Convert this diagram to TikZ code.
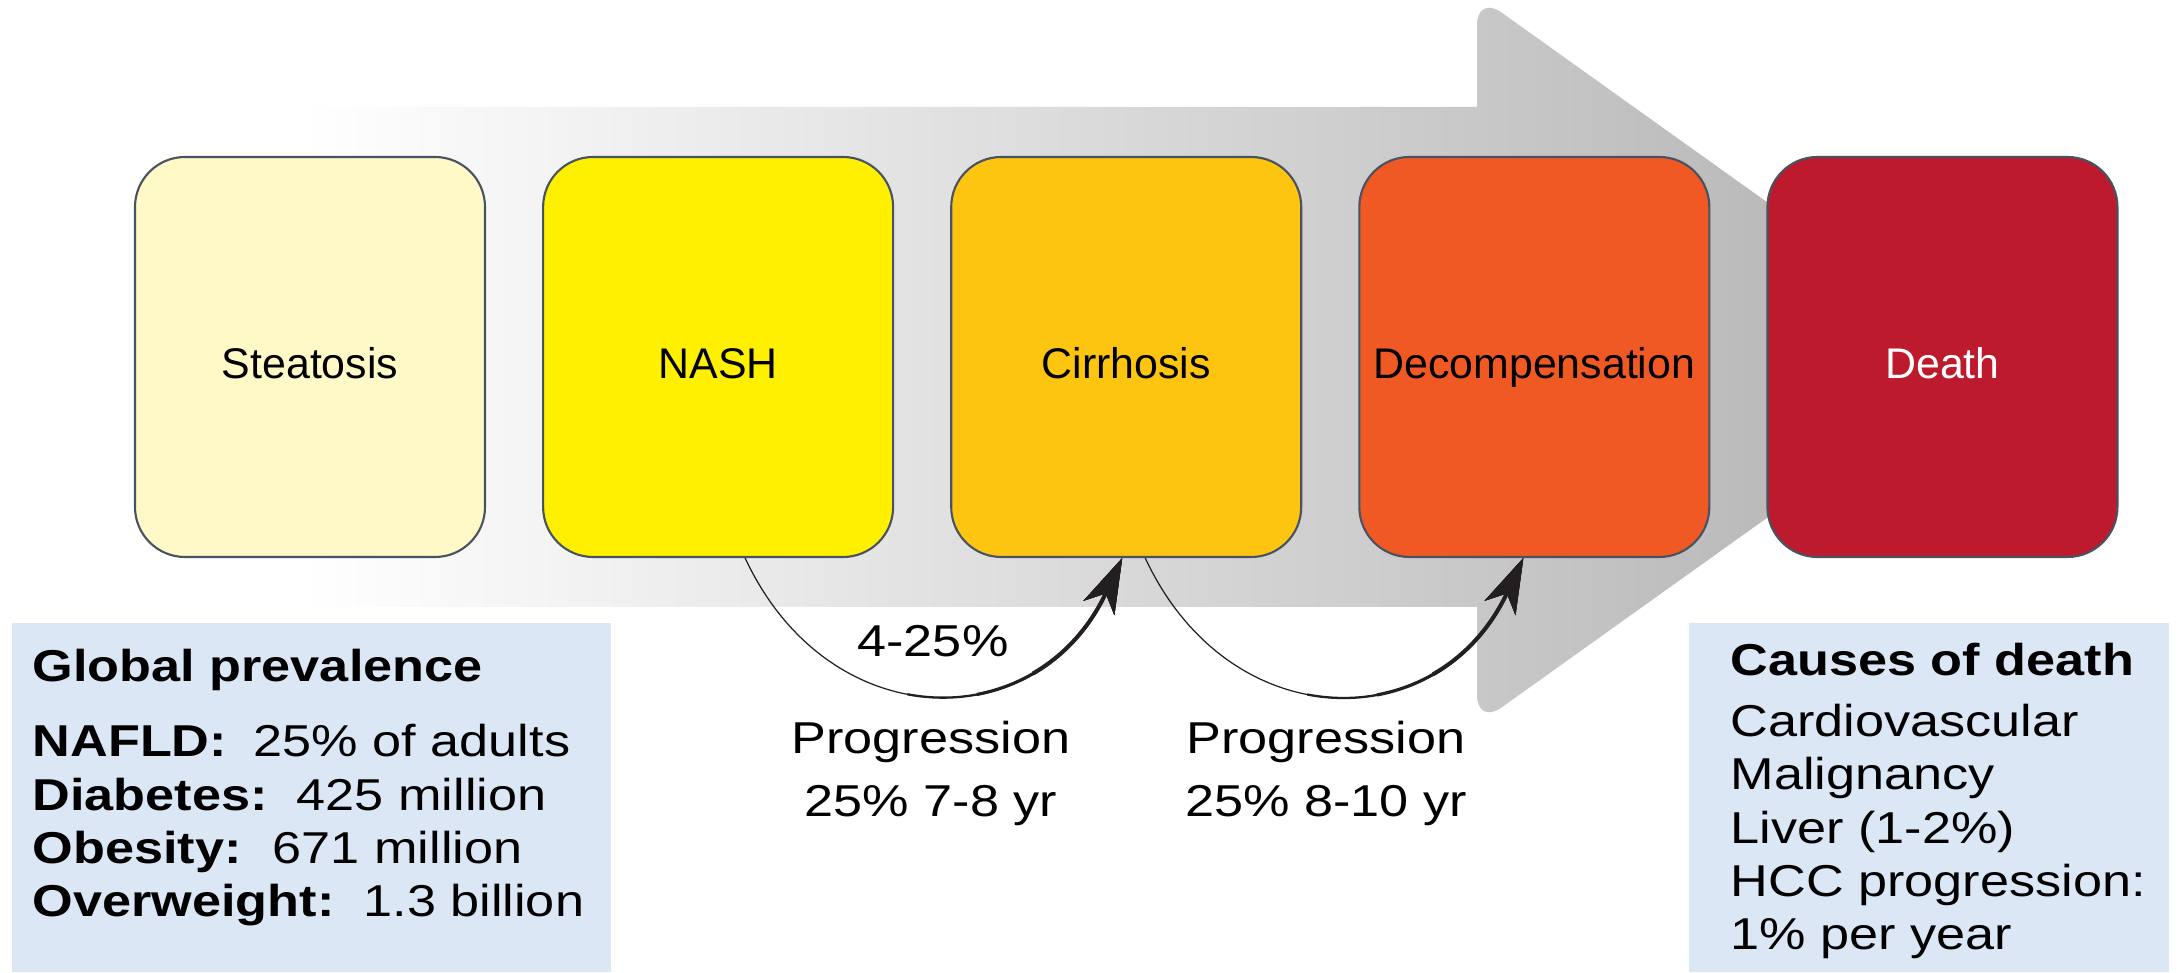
\documentclass[tikz,border=0pt]{standalone}
\usepackage{fontspec}
\setmainfont{Liberation Sans}
\newfontfamily\widesans[FakeStretch=1.17]{Liberation Sans}
\usepackage{xcolor}
\usepackage{tikz}
\usetikzlibrary{
  arrows.meta,
  positioning
}

\definecolor{steatosiscol}{RGB}{255,249,199}
\definecolor{nashcol}{RGB}{255,240,0}
\definecolor{cirrhosiscol}{RGB}{253,196,16}
\definecolor{decompcol}{RGB}{240,89,36}
\definecolor{deathcol}{RGB}{190,26,45}
\definecolor{boxline}{RGB}{72,82,98}
\definecolor{infoblue}{RGB}{220,231,245}
\definecolor{bandend}{RGB}{176,176,176}
\definecolor{progline}{RGB}{35,31,32}
\pgfdeclarehorizontalshading{bandfade}{100bp}{color(0bp)=(white); color(29.5bp)=(white); color(75bp)=(bandend); color(100bp)=(bandend)}

\begin{document}
\begin{tikzpicture}
  [
    stage/.style={draw=boxline, line width=0.6pt, rounded corners=5mm,
      minimum width=3.5cm, minimum height=4cm, inner sep=0pt,
      text height=12.5pt, text depth=0pt,
      font=\fontsize{12.2}{14}\selectfont},
    info/.style={fill=infoblue, inner sep=0pt, anchor=south west},
    infotext/.style={align=left, inner sep=0pt, anchor=base west,
      font=\widesans\fontsize{12.7}{15.2}\selectfont},
    progtext/.style={align=center, inner sep=0pt, anchor=base,
      font=\widesans\fontsize{12.7}{18.2}\selectfont},
    progress/.style={draw=progline, line width=0.35pt,
      -{Stealth[length=5.5mm,width=3.4mm,inset=1.6mm]}},
  ]
  \useasboundingbox (0,0) rectangle (21.79,9.73);
  % \draw[help lines] grid(22,10);
  \shade[shading=bandfade] (1.35,3.66) -- (1.35,8.66) -- (14.77,8.66)
    [rounded corners=3mm] -- (14.77,9.78) -- (19.88,6.13) -- (14.77,2.48)
    [sharp corners] -- (14.77,3.66) -- cycle;

  \node[stage, fill=steatosiscol] (steatosis) at (3.10,6.16) {Steatosis};
  \node[stage, fill=nashcol, right=0.56cm of steatosis] (nash) {NASH};
  \node[stage, fill=cirrhosiscol, right=0.56cm of nash] (cirrhosis) {Cirrhosis};
  \node[stage, fill=decompcol, right=0.56cm of cirrhosis] (decomp) {Decompensation};
  \node[stage, fill=deathcol, text=white, right=0.56cm of decomp] (death) {Death};

  \node[info, minimum width=5.99cm, minimum height=3.49cm] (prevbox) at (0.11,0) {};
  \node[info, minimum width=4.80cm, minimum height=3.49cm] (causebox) at (16.88,0) {};

  \node[infotext] (prevtitle) at (0.32,2.91) {\textbf{Global prevalence}};
  \node[infotext] (prevlist) at (0.32,0.56)
    {\textbf{NAFLD:}\hspace{0.6em}25\% of adults\\
     \textbf{Diabetes:}\ \ 425 million\\
     \textbf{Obesity:}\hspace{0.7em}671 million\\
     \textbf{Overweight:}\ \ 1.3 billion};
  \node[infotext] (causetitle) at (17.30,2.97) {\textbf{Causes of death}};
  \node[infotext] (causelist) at (17.30,0.23)
    {Cardiovascular\\ Malignancy\\ Liver (1-2\%)\\ HCC progression:\\ 1\% per year};

  \node[progtext] (rate) at (9.33,3.16) {4-25\%};
  \node[progtext] (progA) at (9.31,1.56) {Progression\\ 25\% 7-8 yr};
  \node[progtext] (progB) at (13.26,1.56) {Progression\\ 25\% 8-10 yr};

  % NASH -> cirrhosis
  \draw[progress] ([xshift=2.7mm]nash.south) to[out=-65,in=-115,looseness=1.35] ([xshift=-0.4mm]cirrhosis.south);
  \draw[progress, line width=0.65pt, dash pattern=on 0pt off 2.2cm on 8cm] ([xshift=2.7mm]nash.south) to[out=-65,in=-115,looseness=1.35] ([xshift=-0.4mm]cirrhosis.south);
  \draw[progress, line width=0.9pt, dash pattern=on 0pt off 2.9cm on 8cm] ([xshift=2.7mm]nash.south) to[out=-65,in=-115,looseness=1.35] ([xshift=-0.4mm]cirrhosis.south);
  \draw[progress, line width=1.15pt, dash pattern=on 0pt off 3.5cm on 8cm] ([xshift=2.7mm]nash.south) to[out=-65,in=-115,looseness=1.35] ([xshift=-0.4mm]cirrhosis.south);

  % cirrhosis -> decompensation
  \draw[progress] ([xshift=1.9mm]cirrhosis.south) to[out=-65,in=-115,looseness=1.35] ([xshift=-1.1mm]decomp.south);
  \draw[progress, line width=0.65pt, dash pattern=on 0pt off 2.2cm on 8cm] ([xshift=1.9mm]cirrhosis.south) to[out=-65,in=-115,looseness=1.35] ([xshift=-1.1mm]decomp.south);
  \draw[progress, line width=0.9pt, dash pattern=on 0pt off 2.9cm on 8cm] ([xshift=1.9mm]cirrhosis.south) to[out=-65,in=-115,looseness=1.35] ([xshift=-1.1mm]decomp.south);
  \draw[progress, line width=1.15pt, dash pattern=on 0pt off 3.5cm on 8cm] ([xshift=1.9mm]cirrhosis.south) to[out=-65,in=-115,looseness=1.35] ([xshift=-1.1mm]decomp.south);
\end{tikzpicture}
\end{document}
